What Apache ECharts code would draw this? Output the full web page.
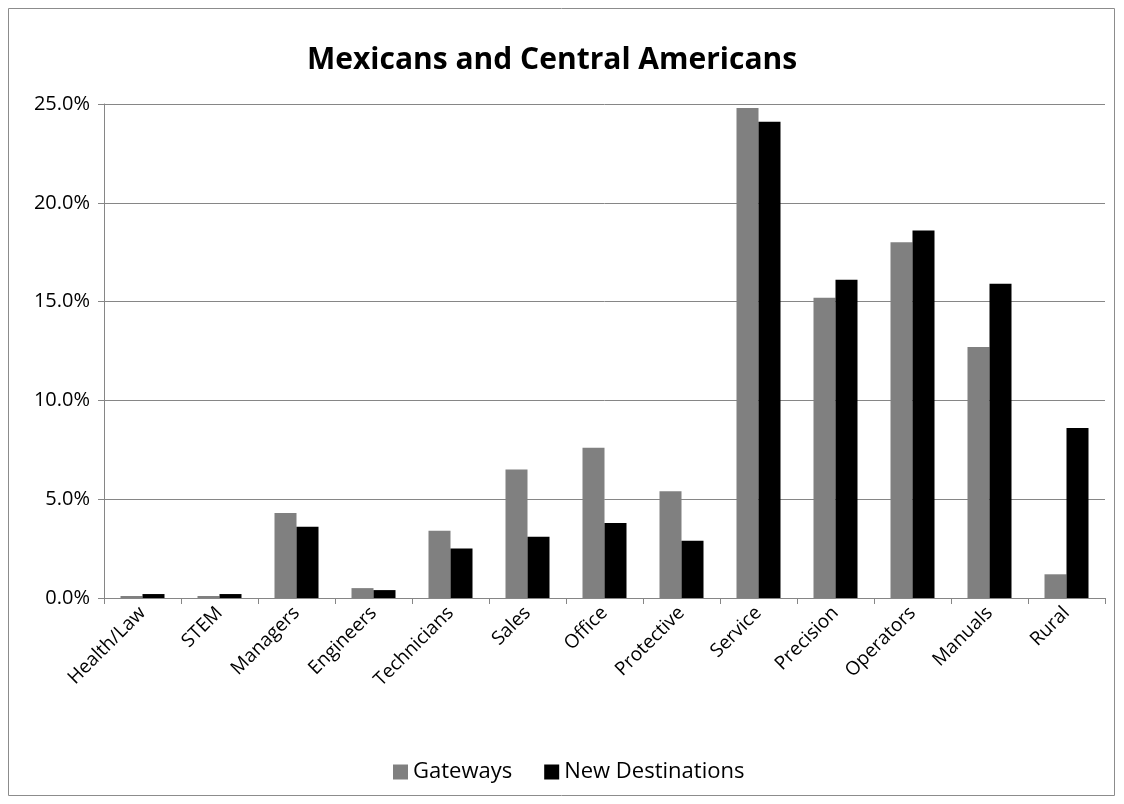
<!DOCTYPE html>
<html><head><meta charset="utf-8">
<script src="https://cdn.jsdelivr.net/npm/echarts@6/dist/echarts.min.js"></script>
<style>html,body{margin:0;padding:0;background:#fff}#c{width:1124px;height:804px}</style>
</head><body><div id="c"></div>
<script>
var categories = ["Health/Law","STEM","Managers","Engineers","Technicians","Sales","Office","Protective","Service","Precision","Operators","Manuals","Rural"];
var gateways = [0.1,0.1,4.3,0.5,3.4,6.5,7.6,5.4,24.8,15.2,18.0,12.7,1.2];
var newDestinations = [0.2,0.2,3.6,0.4,2.5,3.1,3.8,2.9,24.1,16.1,18.6,15.9,8.6];
var yTicks = [0,5,10,15,20,25];
var FONT = "'Open Sans',sans-serif";
var chart = echarts.init(document.getElementById('c'));
chart.setOption({
  animation:false,
  graphic:[{type:'rect',shape:{x:8.5,y:8.5,width:1106,height:787},style:{fill:'none',stroke:'#8c8c8c',lineWidth:1}}],
  title:{text:'Mexicans and Central Americans',left:302,top:40,textStyle:{fontFamily:FONT,fontSize:30,fontWeight:'bold',color:'#000'}},
  legend:{bottom:16,left:388,itemWidth:15,itemHeight:15,itemGap:32,icon:'rect',textStyle:{fontFamily:FONT,fontSize:22,color:'#000'},data:['Gateways','New Destinations']},
  grid:{left:104,right:19,top:104,bottom:206,containLabel:false},
  xAxis:{type:'category',data:categories,axisLine:{lineStyle:{color:'#868686'}},axisTick:{show:true,alignWithLabel:false,length:6,lineStyle:{color:'#868686'}},
    axisLabel:{rotate:45,fontFamily:FONT,fontSize:19,color:'#000',margin:12,interval:0}},
  yAxis:{type:'value',min:0,max:25,interval:5,axisLine:{show:true,lineStyle:{color:'#868686'}},axisTick:{show:true,length:6,inside:false,lineStyle:{color:'#868686'}},
    splitLine:{lineStyle:{color:'#868686'}},
    axisLabel:{fontFamily:FONT,fontSize:20,color:'#000',margin:14,formatter:function(v){return v.toFixed(1)+'%';}}},
  series:[
    {name:'Gateways',type:'bar',data:gateways,barWidth:22,barGap:'0%',itemStyle:{color:'#808080'}},
    {name:'New Destinations',type:'bar',data:newDestinations,barWidth:22,itemStyle:{color:'#000'}}
  ]
});
</script></body></html>
